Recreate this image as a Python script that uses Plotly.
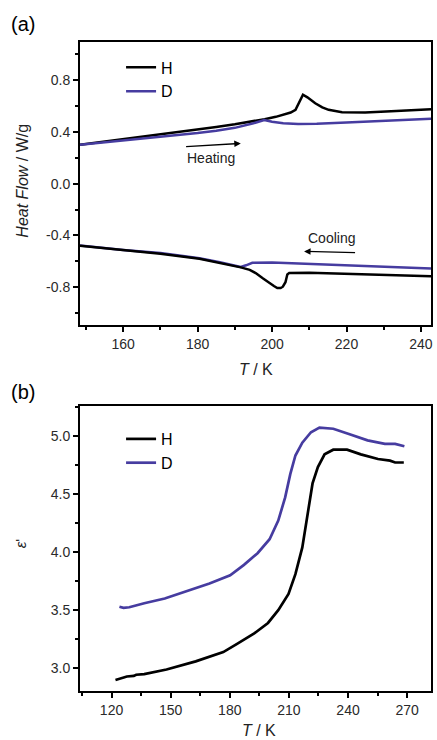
import plotly.graph_objects as go

# ---------------- Panel (a): DSC heat flow ----------------
heat_T_H = [148.4, 155, 160, 167, 175, 180, 185, 190, 195, 198, 201, 203, 205, 206.3, 207.3, 208.3,
            209.5, 211.6, 213.5, 215.2, 218.8, 225, 232, 242.7]
heat_HF_H = [0.300, 0.324, 0.343, 0.369, 0.398, 0.417, 0.437, 0.458, 0.480, 0.497, 0.515, 0.530, 0.548,
             0.569, 0.630, 0.685, 0.665, 0.620, 0.588, 0.569, 0.551, 0.548, 0.558, 0.574]

heat_T_D = [148.4, 155, 160, 167, 175, 180, 185, 190, 195, 197.9, 200, 203, 207, 212, 220, 230, 242.7]
heat_HF_D = [0.300, 0.318, 0.333, 0.351, 0.372, 0.390, 0.408, 0.430, 0.465, 0.490, 0.477, 0.466, 0.459,
             0.461, 0.471, 0.483, 0.500]

cool_T_H = [148.4, 160, 170, 180.5, 186, 191.6, 194, 195.6, 197.5, 199.2, 200.5, 201.4, 202.3, 202.9,
            203.6, 204.1, 204.6, 210, 220, 230, 242.7]
cool_HF_H = [-0.480, -0.515, -0.540, -0.580, -0.610, -0.646, -0.665, -0.690, -0.730, -0.766, -0.790,
             -0.805, -0.805, -0.795, -0.760, -0.700, -0.690, -0.688, -0.695, -0.705, -0.715]

cool_T_D = [148.4, 160, 170, 180.5, 186, 191.6, 193, 194.7, 200, 210, 220, 230, 242.7]
cool_HF_D = [-0.478, -0.512, -0.535, -0.575, -0.607, -0.643, -0.630, -0.610, -0.608, -0.618, -0.632,
             -0.638, -0.655]

a_ytickvals = [-0.8, -0.4, 0.0, 0.4, 0.8]
a_yticktext = ["-0.8", "-0.4", "0.0", "0.4", "0.8"]
a_xtickvals = [160, 180, 200, 220, 240]

# ---------------- Panel (b): dielectric constant ----------------
eps_T_H = [122, 124.5, 127.8, 131.3, 132.5, 136.6, 147.9, 162.7, 176.7, 183.7, 192.4, 199.4, 204.6,
           209.8, 213.3, 216.8, 219.4, 222.0, 224.7, 228.1, 232.5, 239.5, 246.5, 255.2, 261.3, 263.9, 268.3]
eps_H = [2.90, 2.915, 2.93, 2.935, 2.945, 2.95, 2.99, 3.06, 3.14, 3.21, 3.30, 3.39, 3.50, 3.64, 3.81,
         4.04, 4.30, 4.59, 4.73, 4.84, 4.88, 4.88, 4.84, 4.80, 4.786, 4.77, 4.77]

eps_T_D = [124, 126.1, 129, 136.6, 147, 159.2, 169.7, 180.2, 187.2, 194.1, 200.2, 204.6, 208.1, 210.7,
           213.3, 216.8, 221.2, 225.5, 232.5, 241.2, 249.9, 258.7, 263.9, 268.6]
eps_D = [3.53, 3.52, 3.525, 3.56, 3.60, 3.67, 3.73, 3.80, 3.89, 3.99, 4.11, 4.27, 4.47, 4.67, 4.83,
         4.94, 5.03, 5.07, 5.06, 5.01, 4.96, 4.93, 4.93, 4.91]

b_ytickvals = [3.0, 3.5, 4.0, 4.5, 5.0]
b_yticktext = ["3.0", "3.5", "4.0", "4.5", "5.0"]
b_xtickvals = [120, 150, 180, 210, 240, 270]

BLACK = "#000000"
BLUE = "#463CA0"
FONT = "Liberation Sans, Arial, sans-serif"

fig = go.Figure()

# panel (a) traces
fig.add_trace(go.Scatter(x=heat_T_H, y=heat_HF_H, mode="lines", name="H", legend="legend",
                         line=dict(color=BLACK, width=2.5), xaxis="x", yaxis="y"))
fig.add_trace(go.Scatter(x=heat_T_D, y=heat_HF_D, mode="lines", name="D", legend="legend",
                         line=dict(color=BLUE, width=2.5), xaxis="x", yaxis="y"))
fig.add_trace(go.Scatter(x=cool_T_D, y=cool_HF_D, mode="lines", name="D", showlegend=False,
                         line=dict(color=BLUE, width=2.5), xaxis="x", yaxis="y"))
fig.add_trace(go.Scatter(x=cool_T_H, y=cool_HF_H, mode="lines", name="H", showlegend=False,
                         line=dict(color=BLACK, width=2.5), xaxis="x", yaxis="y"))

# panel (b) traces
fig.add_trace(go.Scatter(x=eps_T_H, y=eps_H, mode="lines", name="H", legend="legend2",
                         line=dict(color=BLACK, width=2.7), xaxis="x2", yaxis="y2"))
fig.add_trace(go.Scatter(x=eps_T_D, y=eps_D, mode="lines", name="D", legend="legend2",
                         line=dict(color=BLUE, width=2.7), xaxis="x2", yaxis="y2"))

axis_common = dict(showline=True, linewidth=2, linecolor="black", mirror=True,
                   ticks="outside", ticklen=5, tickwidth=1.5, tickcolor="black",
                   showgrid=False, zeroline=False,
                   tickfont=dict(family=FONT, size=14, color="#2a2a2a"))

minor_common = dict(ticks="outside", ticklen=3, tickwidth=1.5, tickcolor="black")

fig.update_layout(
    width=437, height=740,
    margin=dict(l=80, r=4, t=42, b=49),
    paper_bgcolor="white", plot_bgcolor="white",
    font=dict(family=FONT, color="black"),
    xaxis=dict(domain=[0, 1], anchor="y", range=[148.4, 242.7], tickvals=a_xtickvals,
               minor=dict(dtick=10, tick0=150, **minor_common), **axis_common),
    yaxis=dict(domain=[0.564, 1], anchor="x", range=[-1.09, 1.092], tickvals=a_ytickvals,
               ticktext=a_yticktext, minor=dict(dtick=0.2, tick0=0, **minor_common), **axis_common),
    xaxis2=dict(domain=[0, 1], anchor="y2", range=[104, 282.1], tickvals=b_xtickvals,
                minor=dict(dtick=15, tick0=105, **minor_common), **axis_common),
    yaxis2=dict(domain=[0, 0.439], anchor="x2", range=[2.805, 5.255], tickvals=b_ytickvals,
                ticktext=b_yticktext, minor=dict(dtick=0.25, tick0=3.0, **minor_common), **axis_common),
    legend=dict(x=0.117, y=0.987, xanchor="left", yanchor="top", bgcolor="rgba(0,0,0,0)",
                font=dict(family=FONT, size=16, color="black"), tracegroupgap=0),
    legend2=dict(x=0.117, y=0.4145, xanchor="left", yanchor="top", bgcolor="rgba(0,0,0,0)",
                 font=dict(family=FONT, size=16, color="black"), tracegroupgap=0),
    showlegend=True,
)


def label(text, x, y, size, angle=0, color="#222222", ref="paper"):
    return dict(text=text, x=x, y=y, xref=ref if ref == "paper" else ref[0],
                yref=ref if ref == "paper" else ref[1], showarrow=False, textangle=angle,
                xanchor="center", yanchor="middle", font=dict(family=FONT, size=size, color=color))


ann = [
    label("(a)", -0.1615, 1.0285, 20, color="black"),
    label("(b)", -0.1615, 0.46, 20, color="black"),
    label("<i>Heat Flow</i> / W/g", -0.164, 0.787, 16, angle=-90),
    label("<i>T</i> / K", 0.501, 0.496, 16),
    label("<i>T</i> / K", 0.51, -0.0616, 16),
    label("<i>ε</i>'", -0.17, 0.228, 15, angle=-90),
    label("Heating", 183.6, 0.195, 14, ref=("x", "y")),
    label("Cooling", 216, -0.418, 14, ref=("x", "y")),
    dict(x=191.6, y=0.31, ax=176.5, ay=0.285, xref="x", yref="y", axref="x", ayref="y",
         text="", showarrow=True, arrowhead=2, arrowsize=1, arrowwidth=1.3, arrowcolor="black"),
    dict(x=208.6, y=-0.523, ax=222.7, ay=-0.533, xref="x", yref="y", axref="x", ayref="y",
         text="", showarrow=True, arrowhead=2, arrowsize=1, arrowwidth=1.3, arrowcolor="black"),
]
fig.update_layout(annotations=ann)

fig.write_html("out.html", config={"displayModeBar": False},
               post_script="document.body.style.margin='0px';")
